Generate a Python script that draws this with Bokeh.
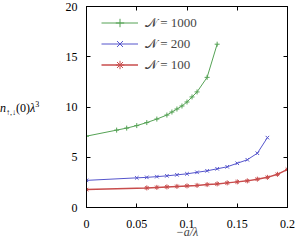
from bokeh.plotting import figure
from bokeh.layouts import row
from bokeh.models import LinearAxis, Legend, LegendItem, FixedTicker, Range1d, Div
from bokeh.embed import file_html
from bokeh.resources import INLINE

# data
x1000 = [0.0, 0.03, 0.04, 0.05, 0.06, 0.07, 0.08, 0.085, 0.09, 0.095, 0.10, 0.105, 0.11, 0.12, 0.13]
y1000 = [7.1, 7.7, 7.9, 8.15, 8.45, 8.8, 9.2, 9.5, 9.8, 10.1, 10.5, 11.0, 11.5, 12.95, 16.25]

x200 = [0.0, 0.05, 0.06, 0.07, 0.08, 0.09, 0.10, 0.11, 0.12, 0.13, 0.14, 0.15, 0.16, 0.17, 0.18]
y200 = [2.7, 2.95, 3.0, 3.07, 3.15, 3.25, 3.35, 3.5, 3.65, 3.85, 4.05, 4.4, 4.75, 5.4, 6.95]

x100 = [0.0, 0.06, 0.07, 0.08, 0.09, 0.10, 0.11, 0.12, 0.13, 0.14, 0.15, 0.16, 0.17, 0.18, 0.19, 0.20]
y100 = [1.78, 1.95, 2.0, 2.05, 2.1, 2.15, 2.2, 2.28, 2.35, 2.45, 2.55, 2.65, 2.82, 3.0, 3.3, 3.8]

xticks = [0, 0.05, 0.1, 0.15, 0.2]
xtick_labels = ["0", "0.05", "0.1", "0.15", "0.2"]
yticks = [0, 5, 10, 15, 20]
labels = ["\U0001D4A9 = 1000", "\U0001D4A9 = 200", "\U0001D4A9 = 100"]
colors = ["#55a255", "#5555cc", "#c84c4c"]
widths = [1, 1, 1.5]

SERIF = "Liberation Serif"

p = figure(frame_width=201, frame_height=201, output_backend="svg", toolbar_location=None,
           x_range=Range1d(0, 0.2), y_range=Range1d(0, 20),
           min_border_left=22, min_border_right=11, min_border_top=6, min_border_bottom=41)
p.grid.visible = False
p.outline_line_color = "black"
p.outline_line_width = 1
p.background_fill_color = "white"
p.border_fill_color = "white"

def style_axis(ax, ticks, show_labels=True):
    ax.ticker = FixedTicker(ticks=ticks)
    ax.major_tick_in = 4
    ax.major_tick_out = 0
    ax.minor_tick_line_color = None
    ax.axis_line_color = "black"
    ax.major_tick_line_color = "black"
    ax.major_label_text_font = SERIF
    ax.major_label_text_color = "black"
    if show_labels:
        ax.major_label_text_font_size = "12px"
    else:
        ax.major_label_text_font_size = "0px"
        ax.major_label_standoff = 0

style_axis(p.xaxis[0], xticks)
style_axis(p.yaxis[0], yticks)
p.xaxis[0].major_label_standoff = 12
p.yaxis[0].major_label_standoff = 9
p.xaxis[0].major_label_overrides = {t: s for t, s in zip(xticks, xtick_labels)}

p.xaxis[0].axis_label = "\u2212a/\u03bb"
p.xaxis[0].axis_label_text_font = SERIF
p.xaxis[0].axis_label_text_font_style = "italic"
p.xaxis[0].axis_label_text_font_size = "12px"
p.xaxis[0].axis_label_standoff = -6

top = LinearAxis()
right = LinearAxis()
p.add_layout(top, "above")
p.add_layout(right, "right")
style_axis(top, xticks, False)
style_axis(right, yticks, False)

r_items = []
specs = [(x1000, y1000, "cross", 5), (x200, y200, "x", 5), (x100, y100, "asterisk", 5)]
for (xs, ys, mk, sz), c, lw, lab in zip(specs, colors, widths, labels):
    ln = p.line(xs, ys, line_color=c, line_width=lw)
    sc = p.scatter(xs, ys, marker=mk, size=sz, line_color=c, fill_color=c, line_width=1)
    r_items.append(LegendItem(label=lab, renderers=[ln, sc]))

leg = Legend(items=r_items, location=(15, 132), margin=0, padding=2, spacing=0,
             glyph_width=37, glyph_height=21, label_height=21, label_standoff=7,
             label_text_font=SERIF, label_text_font_size="13px",
             background_fill_alpha=0, border_line_color=None)
p.add_layout(leg, "center")

ylabel_html = ('<div style="font-family: \'Liberation Serif\'; font-size: 12px; line-height: 14px; '
               'padding-top: 98px; white-space: nowrap; color: black;">'
               '<i>n</i><sub style="font-size: 8px;">\u2191,\u2193</sub>(0)<i>\u03bb</i>'
               '<sup style="font-size: 8px;">3</sup></div>')
ylab = Div(text=ylabel_html, width=62, height=249, margin=0)

layout = row(ylab, p, spacing=0)
open("out.html", "w").write(file_html(layout, INLINE))
